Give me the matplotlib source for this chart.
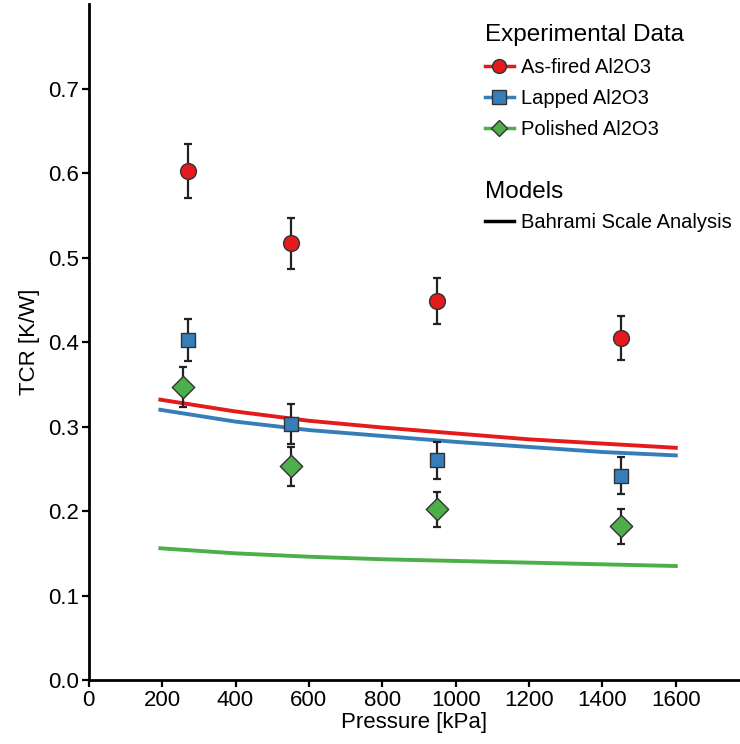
import matplotlib
matplotlib.use("Agg")
import matplotlib.pyplot as plt
from matplotlib.lines import Line2D

plt.rcParams["font.family"] = ["Liberation Sans", "DejaVu Sans"]

# experimental data (pressure kPa, TCR K/W, error)
series = ["As-fired Al2O3", "Lapped Al2O3", "Polished Al2O3"]
colors = ["#e41a1c", "#377eb8", "#4daf4a"]
markers = ["o", "s", "D"]
exp_x = [[270, 550, 950, 1450], [270, 550, 950, 1450], [258, 550, 950, 1450]]
exp_y = [[0.603, 0.517, 0.449, 0.405],
         [0.403, 0.303, 0.260, 0.242],
         [0.347, 0.253, 0.202, 0.182]]
exp_err = [[0.032, 0.030, 0.027, 0.026],
           [0.025, 0.024, 0.022, 0.022],
           [0.024, 0.023, 0.021, 0.021]]

# Bahrami scale analysis model curves
model_x = [195, 400, 600, 800, 1000, 1200, 1400, 1600]
model_y = [[0.332, 0.318, 0.307, 0.299, 0.292, 0.285, 0.280, 0.275],
           [0.320, 0.306, 0.296, 0.289, 0.282, 0.276, 0.270, 0.266],
           [0.156, 0.150, 0.146, 0.143, 0.141, 0.139, 0.137, 0.135]]

fig = plt.figure(figsize=(7.4, 7.44), dpi=100)
ax = fig.add_axes([0.120, 0.086, 0.88, 0.908])

for c, my in zip(colors, model_y):
    ax.plot(model_x, my, color=c, lw=2.8, zorder=2)

for x, y, e, c, m in zip(exp_x, exp_y, exp_err, colors, markers):
    ax.errorbar(x, y, yerr=e, fmt="none", ecolor="#222222", elinewidth=1.6,
                capsize=3, capthick=1.6, zorder=3)
    ax.scatter(x, y, marker=m, s=130 if m != "s" else 110, color=c,
               edgecolor="#333333", linewidth=1, zorder=4)

ax.set_xlim(0, 1775)
ax.set_ylim(0, 0.8)
ax.set_xticks(range(0, 1601, 200))
ax.set_yticks([0.0, 0.1, 0.2, 0.3, 0.4, 0.5, 0.6, 0.7])
ax.set_yticklabels([f"{v:.1f}" for v in ax.get_yticks()])
for s in ["top", "right"]:
    ax.spines[s].set_visible(False)
for s in ["left", "bottom"]:
    ax.spines[s].set_linewidth(2)
ax.tick_params(labelsize=16, width=1.6, length=5, direction="out", pad=2)
ax.set_xlabel("Pressure [kPa]", fontsize=16, labelpad=1)
ax.set_ylabel("TCR [K/W]", fontsize=16, labelpad=6)

h1 = [Line2D([], [], color=c, marker=m, markersize=10 if m != "D" else 8.5,
             markeredgecolor="#333333", lw=2.5)
      for c, m in zip(colors, markers)]
leg_kw = dict(loc="upper left", bbox_transform=fig.transFigure, frameon=False,
              fontsize=14.5, title_fontsize=17.5, handlelength=1.45,
              handletextpad=0.35, borderpad=0, borderaxespad=0, alignment="left")
leg1 = ax.legend(h1, series, title="Experimental Data",
                 bbox_to_anchor=(0.655, 0.968), labelspacing=0.6, **leg_kw)
ax.add_artist(leg1)
h2 = [Line2D([], [], color="black", lw=2.5)]
ax.legend(h2, ["Bahrami Scale Analysis"], title="Models",
          bbox_to_anchor=(0.655, 0.757), **leg_kw)

fig.savefig("out.png")
